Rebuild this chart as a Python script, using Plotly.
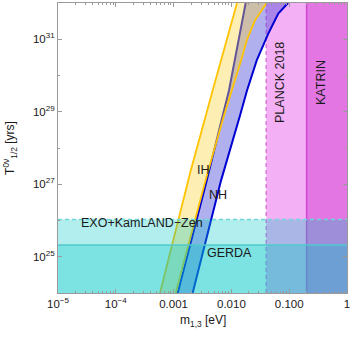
import numpy as np
import plotly.graph_objects as go

# ---- data ----
# inverted hierarchy band (lightest mass in eV, half-life in years)
ih_lo_m = [5.82e-4, 1.98e-3, 4.74e-3, 7.08e-3, 1.25e-2]
ih_lo_T = [1e24, 2.39e27, 3.87e29, 3.59e30, 1e32]
ih_hi_m = [1.086e-3, 3.56e-3, 7.45e-3, 1.023e-2, 1.507e-2, 1.841e-2, 2.559e-2, 4.08e-2]
ih_hi_T = [1e24, 1.26e27, 7.91e28, 3.87e29, 2.96e30, 9.33e30, 3.33e31, 1e32]
# normal hierarchy band
nh_lo_m = [1.178e-3, 3.74e-3, 7.08e-3, 9.08e-3, 1.766e-2]
nh_lo_T = [1e24, 1.26e27, 7.91e28, 3.87e29, 1e32]
nh_hi_m = [2.138e-3, 6.61e-3, 1.409e-2, 1.862e-2, 2.742e-2, 3.342e-2, 4.345e-2, 6.471e-2, 9.53e-2]
nh_hi_T = [1e24, 1.26e27, 7.91e28, 3.87e29, 2.61e30, 5.50e30, 1.43e31, 5.09e31, 1e32]

# experimental limits
gerda_T = 2.1e25
exo_T = 1.07e26
planck_m = 0.04
katrin_m = 0.2

# axis extents and ticks
x_min, x_max = 1e-5, 1.0
y_min, y_max = 1e24, 1e32
x_tickvals = [1e-5, 1e-4, 1e-3, 1e-2, 1e-1, 1.0]
x_ticktext = ["10<sup>−5</sup>", "10<sup>−4</sup>", "0.001", "0.010", "0.100", "1"]
y_tickvals = [1e25, 1e27, 1e29, 1e31]
y_ticktext = ["10<sup>25</sup>", "10<sup>27</sup>", "10<sup>29</sup>", "10<sup>31</sup>"]
y_minorvals = [1e24, 1e26, 1e28, 1e30, 1e32]
x_minorvals = [k * 10.0 ** e for e in range(-5, 0) for k in range(2, 10)]

FONT = "Liberation Sans, Arial, Helvetica, sans-serif"
TXT = "#1a1a1a"
AX = "#9a9a9a"

fig = go.Figure()


def band(xs, ys, color):
    fig.add_trace(go.Scatter(x=xs, y=ys, mode="lines", fill="toself",
                             fillcolor=color, line=dict(width=0),
                             hoverinfo="skip", showlegend=False))


def line(xs, ys, color, width=1.5, dash="solid"):
    fig.add_trace(go.Scatter(x=xs, y=ys, mode="lines",
                             line=dict(color=color, width=width, dash=dash),
                             hoverinfo="skip", showlegend=False))


# PLANCK and KATRIN vertical bands
band([planck_m, x_max, x_max, planck_m], [y_min, y_min, y_max, y_max], "rgba(230,80,230,0.45)")
line([planck_m, planck_m], [y_min, y_max], "rgb(220,120,220)", 1.5, "4px,3px")
band([katrin_m, x_max, x_max, katrin_m], [y_min, y_min, y_max, y_max], "rgba(210,60,210,0.5)")
line([katrin_m, katrin_m], [y_min, y_max], "rgb(205,70,205)", 1.5)

# NH band
band(nh_lo_m + nh_hi_m[::-1], nh_lo_T + nh_hi_T[::-1], "rgba(79,79,217,0.45)")
line(nh_lo_m, nh_lo_T, "rgb(0,0,210)", 2)
line(nh_hi_m, nh_hi_T, "rgb(0,0,210)", 2)

# IH band
band(ih_lo_m + ih_hi_m[::-1], ih_lo_T + ih_hi_T[::-1], "rgba(250,212,68,0.4)")
line(ih_lo_m, ih_lo_T, "rgb(255,195,0)", 1.8)
line(ih_hi_m, ih_hi_T, "rgb(255,195,0)", 1.8)

# EXO+KamLAND-Zen and GERDA horizontal bands
band([x_min, x_max, x_max, x_min], [y_min, y_min, exo_T, exo_T], "rgba(0,200,200,0.3)")
band([x_min, x_max, x_max, x_min], [y_min, y_min, gerda_T, gerda_T], "rgba(0,200,200,0.3)")
line([x_min, x_max], [exo_T, exo_T], "rgb(110,215,215)", 1.5, "4px,3px")
line([x_min, x_max], [gerda_T, gerda_T], "rgb(80,200,205)", 1.5)

# text labels (paper coordinates)
labels = [
    ("PLANCK 2018", 0.7706, 0.7266, -90),
    ("KATRIN", 0.9125, 0.7266, -90),
    ("IH", 0.5028, 0.4231, 0),
    ("NH", 0.5526, 0.3369, 0),
    ("EXO+KamLAND−Zen", 0.2907, 0.2403, 0),
    ("GERDA", 0.5917, 0.1379, 0),
]
for t, xp, yp, ang in labels:
    fig.add_annotation(text=t, x=xp, y=yp, xref="paper", yref="paper",
                       showarrow=False, textangle=ang,
                       xanchor="center", yanchor="middle",
                       font=dict(family=FONT, size=12.5, color=TXT))

# x-axis title
fig.add_annotation(text="m<sub>1,3</sub> [eV]", x=0.5, y=-0.097, xref="paper", yref="paper",
                   showarrow=False, xanchor="center", yanchor="middle",
                   font=dict(family=FONT, size=12, color=TXT))

axis_common = dict(
    type="log", showgrid=False, zeroline=False, automargin=False,
    ticks="inside", ticklen=4, tickwidth=1, tickcolor=AX,
    showline=True, linecolor=AX, linewidth=1, mirror="allticks",
    tickfont=dict(family=FONT, size=11.5, color=TXT),
)

fig.update_xaxes(
    **axis_common,
    range=[np.log10(x_min), np.log10(x_max)],
    tickmode="array", tickvals=x_tickvals, ticktext=x_ticktext,
    minor=dict(tickmode="array", tickvals=x_minorvals, ticks="inside",
               ticklen=2, tickcolor=AX, showgrid=False),
)
fig.update_yaxes(
    **axis_common,
    range=[np.log10(y_min), np.log10(y_max)],
    tickmode="array", tickvals=y_tickvals, ticktext=y_ticktext,
    minor=dict(tickmode="array", tickvals=y_minorvals, ticks="inside",
               ticklen=2, tickcolor=AX, showgrid=False),
    title=dict(text="T<sup>0ν</sup><sub>1/2</sub> [yrs]",
               font=dict(family=FONT, size=12, color=TXT)),
)

fig.update_layout(
    width=352, height=340, autosize=False,
    margin=dict(l=58, r=5, t=3, b=47, pad=0),
    plot_bgcolor="white", paper_bgcolor="white",
    font=dict(family=FONT, color=TXT),
)

fig.write_html("out.html", config={"displayModeBar": False},
               post_script="document.body.style.margin='0';document.body.style.padding='0';")
